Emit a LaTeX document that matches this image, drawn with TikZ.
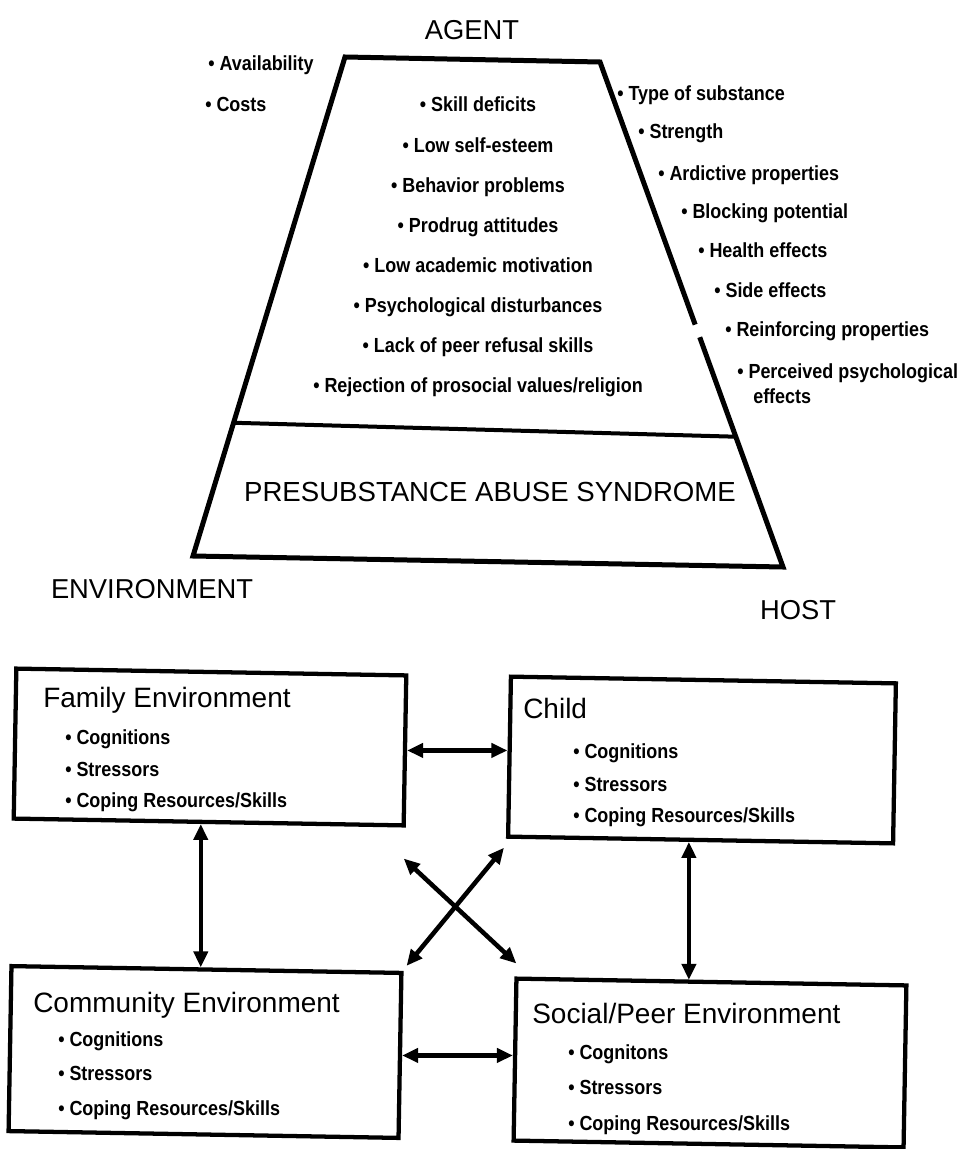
\documentclass[tikz,border=0pt]{standalone}
\usepackage{fontspec}
\setmainfont{Liberation Sans}
\newfontfamily\itemfont[FakeStretch=0.88]{Liberation Sans Bold}
\usetikzlibrary{arrows.meta,calc}

\begin{document}
\begin{tikzpicture}[x=0.75pt,y=-0.75pt,
  frame/.style={line width=3.75pt, line join=miter},
  big/.style={font=\fontsize{20.5}{24}\selectfont, inner sep=0, anchor=base},
  head/.style={font=\fontsize{21}{25}\selectfont, inner sep=0, anchor=base west},
  itm/.style={font=\itemfont\fontsize{15.3}{18}\selectfont, inner sep=0, anchor=base west},
  citm/.style={font=\itemfont\fontsize{15.3}{18}\selectfont, inner sep=0, anchor=base},
  box/.style={draw, line width=3.2pt, rotate=-1, inner sep=0},
  arr/.style={{Triangle[length=12pt,width=10.5pt]}-{Triangle[length=12pt,width=10.5pt]}, line width=3.4pt}
]
\useasboundingbox (0,0) rectangle (976,1149);

% ---- agent / host / environment trapezoid ----
\coordinate (tl) at (345,57);
\coordinate (tr) at (600,62);
\coordinate (br) at (783,567);
\coordinate (bl) at (193,556);
\coordinate (ml) at ($(tl)!0.733!(bl)$);
\coordinate (mr) at ($(tr)!0.742!(br)$);
\coordinate (g1) at ($(tr)!0.52!(br)$);
\coordinate (g2) at ($(tr)!0.545!(br)$);
\draw[frame] (g1) -- (tr) -- (tl) -- (bl) -- (br) -- (g2);
\draw[line width=3pt] (ml) -- (mr);

\node[big] (agent) at (472,40) {AGENT};
\node[big] (env) at (152,598) {ENVIRONMENT};
\node[big] (host) at (798,619) {HOST};
\node[big, font=\fontsize{20.7}{24}\selectfont] (pas) at (490,501) {PRESUBSTANCE ABUSE SYNDROME};

% environment factors
\node[itm] (avail) at (208,70) {• Availability};
\node[itm] (costs) at (205,111) {• Costs};

% host factors
\foreach \t [count=\i] in {Skill deficits, Low self-esteem, Behavior problems,
  Prodrug attitudes, Low academic motivation, Psychological disturbances,
  Lack of peer refusal skills, Rejection of prosocial values/religion}
  \node[citm] (h\i) at (478,{112+40.1*(\i-1)}) {• \t};

% agent factors
\node[itm] (a1) at (617,100) {• Type of substance};
\node[itm] (a2) at (638,138) {• Strength};
\node[itm] (a3) at (658,180) {• Ardictive properties};
\node[itm] (a4) at (681,218) {• Blocking potential};
\node[itm] (a5) at (698,257) {• Health effects};
\node[itm] (a6) at (714,297) {• Side effects};
\node[itm] (a7) at (725,336) {• Reinforcing properties};
\node[itm] (a8) at (737,378) {• Perceived psychological};
\node[itm] (a9) at (753,403) {effects};

% ---- domain boxes ----
\node[box, minimum width=292.5pt, minimum height=112.5pt] (fam) at (210,747) {};
\node[box, minimum width=288.75pt, minimum height=120pt] (child) at (702,760) {};
\node[box, minimum width=292.5pt, minimum height=123.75pt] (com) at (205,1052) {};
\node[box, minimum width=292.5pt, minimum height=121.5pt] (soc) at (710,1063) {};

\node[head] (famt) at (43,707) {Family Environment};
\node[itm] (f1) at (65,744) {• Cognitions};
\node[itm] (f2) at (65,776) {• Stressors};
\node[itm] (f3) at (65,807) {• Coping Resources/Skills};

\node[head] (childt) at (523,718) {Child};
\node[itm] (c1) at (573,758) {• Cognitions};
\node[itm] (c2) at (573,791) {• Stressors};
\node[itm] (c3) at (573,822) {• Coping Resources/Skills};

\node[head] (comt) at (33,1012) {Community Environment};
\node[itm] (m1) at (58,1046) {• Cognitions};
\node[itm] (m2) at (58,1080) {• Stressors};
\node[itm] (m3) at (58,1115) {• Coping Resources/Skills};

\node[head] (soct) at (532,1023) {Social/Peer Environment};
\node[itm] (s1) at (568,1059) {• Cognitons};
\node[itm] (s2) at (568,1094) {• Stressors};
\node[itm] (s3) at (568,1130) {• Coping Resources/Skills};

% ---- two-way influences ----
\coordinate (fv) at ($(fam.south west)!0.48!(fam.south east)$);
\coordinate (cv) at ($(child.south west)!0.47!(child.south east)$);
\draw[arr] (fam.east) -- (fam.east -| child.west);
\draw[arr] (com.east) -- (com.east -| soc.west);
\draw[arr] (fv) -- (fv |- com.north);
\draw[arr] (cv) -- (cv |- soc.north);
\draw[arr] ($(fam.south east)+(-2,31)$) -- ($(soc.north west)+(2,-13)$);
\draw[arr] ($(child.south west)+(-2,9)$) -- ($(com.north east)+(3,-5)$);
\end{tikzpicture}
\end{document}
